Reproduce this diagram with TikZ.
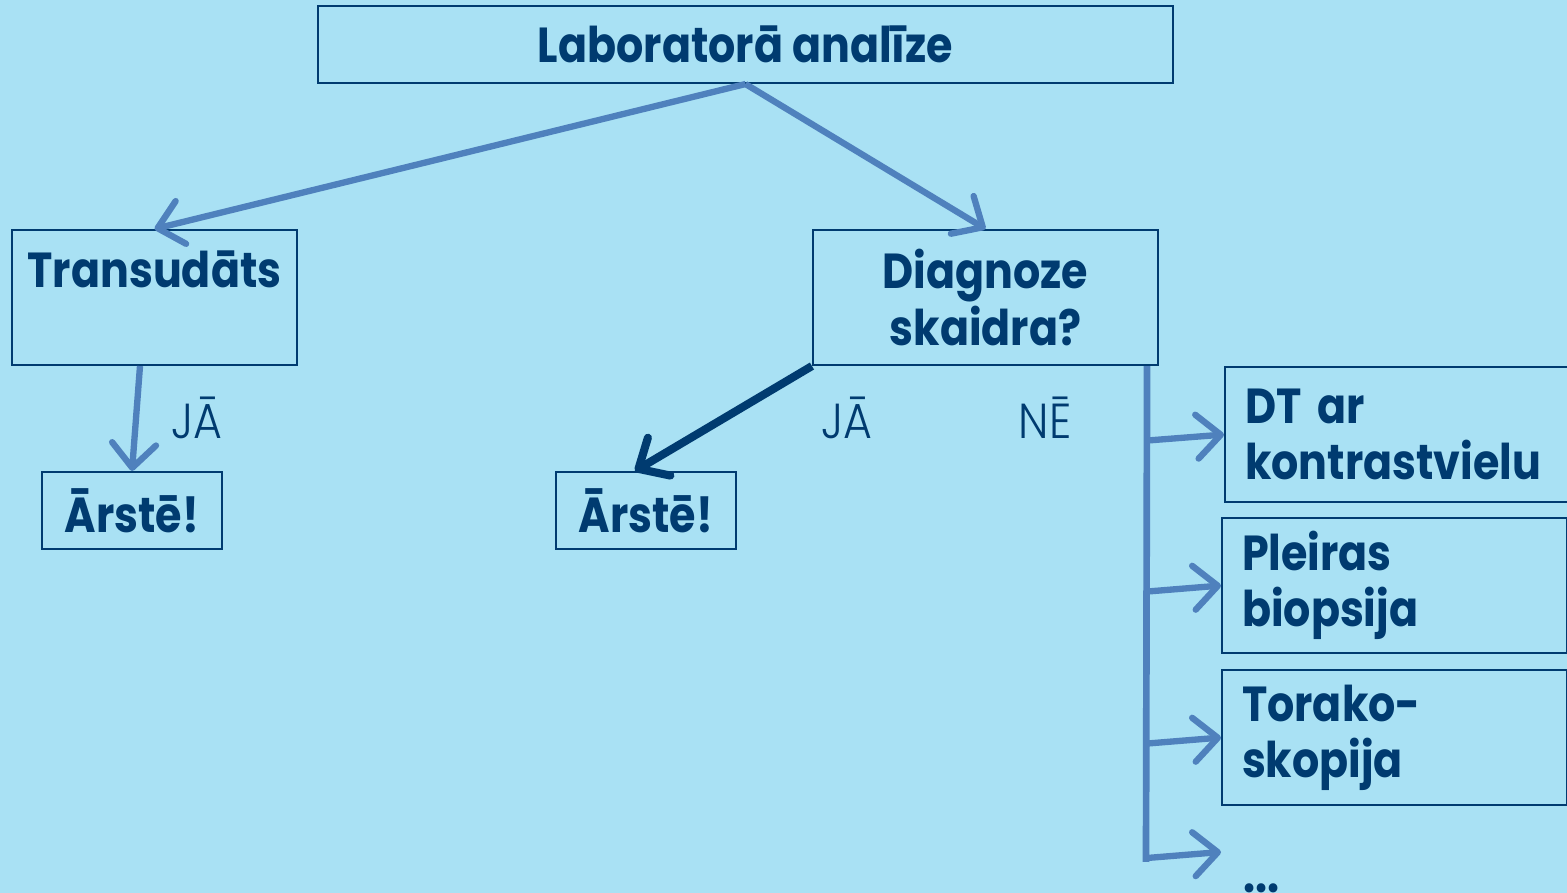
\documentclass[tikz,border=0pt]{standalone}
\usepackage{fontspec}
\setmainfont{Poppins}[FakeStretch=0.87]
\newfontfamily\lightfont{Poppins Light}[FakeStretch=0.9]
\usetikzlibrary{arrows.meta,calc}
\definecolor{bgblue}{HTML}{A9E1F4}
\definecolor{navy}{HTML}{003B70}
\definecolor{arrowblue}{HTML}{4F81BD}
\tikzset{
  box/.style={draw=navy, line width=0.6pt, text=navy, font=\bfseries\fontsize{14}{16}\selectfont, inner sep=0pt, align=center},
  sidebox/.style={box, minimum height=1.35cm, text width=3.05cm, align=left, inner xsep=0.2cm, anchor=north west},
  link/.style={arrowblue, line width=1.8pt, -{Straight Barb[length=2.4mm,width=4.4mm,round]}},
  answer/.style={text=navy, font=\lightfont\fontsize{14}{16}\selectfont},
}
\begin{document}
\begin{tikzpicture}
            \useasboundingbox (0,0) rectangle (15.67,-8.93);
            \fill[bgblue] (0,0) rectangle (15.67,-8.93);

            % Draw the top box
            \node[box, minimum width=8.55cm, minimum height=0.77cm] (lab) at (7.455,-0.445) {Laboratorā analīze};

            % Draw the left branch
            \node[box, minimum width=2.85cm, minimum height=1.35cm] (trans) at (1.545,-2.975) {Transudāts\\~};
            \node[box, minimum width=1.8cm, minimum height=0.77cm] (treat1) at (1.32,-5.105) {Ārstē!};
            \node[answer] (yes1) at (1.97,-4.18) {JĀ};

            % Draw the middle branch
            \node[box, minimum width=3.45cm, minimum height=1.35cm] (diag) at (9.855,-2.975) {Diagnoze\\skaidra?};
            \node[box, minimum width=1.8cm, minimum height=0.77cm] (treat2) at (6.46,-5.105) {Ārstē!};
            \node[answer] (yes2) at (8.47,-4.18) {JĀ};
            \node[answer] (no) at (10.45,-4.18) {NĒ};

            % Draw the further tests
            \node[sidebox] (ct) at (12.24,-3.66) {DT ar\\kontrastvielu};
            \node[sidebox] (biopsy) at (12.21,-5.17) {Pleiras\\biopsija};
            \node[sidebox] (scope) at (12.21,-6.69) {Torako-\\skopija};
            \node[box, draw=none, align=left, anchor=west, inner xsep=0.21cm, text height=0.82cm, text depth=0pt] (more) at (12.21,-8.52) {...};

            % Draw the arrows
            \draw[link] (lab.south) -- (trans.north);
            \draw[link] (lab.south) -- (diag.north);
            \draw[link] ($(trans.south)+(-0.145,0)$) -- (treat1.north);
            \draw[link, navy, line width=2.3pt] (diag.south west) -- ($(treat2.north)+(-0.11,0)$);

            \coordinate (bus top) at ($(diag.south east)+(-0.12,0)$);
            \coordinate (bus end) at (11.46,-8.62);
            \draw[arrowblue, line width=1.9pt] (bus top) -- (bus end);
            \foreach \target in {ct,biopsy,scope,more}
              \draw[link] ($(bus top |- \target.west)+(0,-0.06)$) -- (\target.west);

\end{tikzpicture}
\end{document}
